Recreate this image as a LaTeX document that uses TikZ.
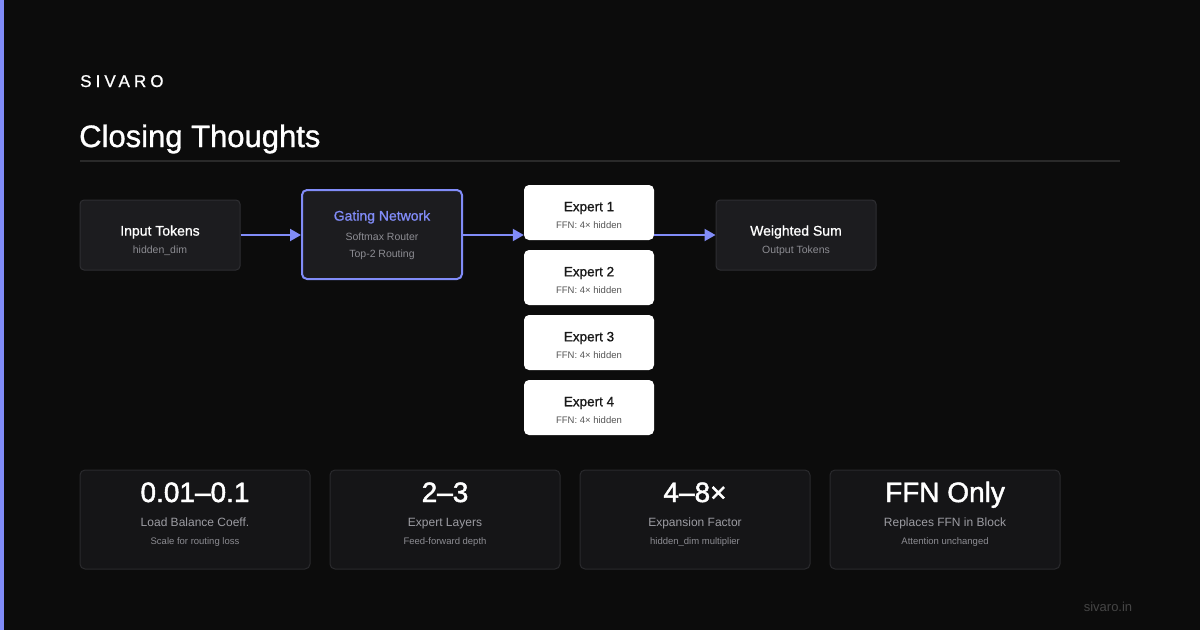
\documentclass[tikz,border=0pt]{standalone}
\usepackage{fontspec}
\setmainfont{Liberation Sans}
\newfontfamily\spacedfont[LetterSpace=24,FakeBold=0.8]{Liberation Sans}
\newfontfamily\medfont[FakeBold=1]{Liberation Sans}
\newfontfamily\semifont[FakeBold=1.6]{Liberation Sans}
\usetikzlibrary{arrows.meta}
\definecolor{bg}{HTML}{0C0C0C}
\definecolor{accent}{HTML}{818CF8}
\definecolor{boxfill}{HTML}{1C1C1F}
\definecolor{boxline}{HTML}{2E2E32}
\definecolor{cardfill}{HTML}{151517}
\definecolor{cardline}{HTML}{2A2A2D}
\definecolor{subgray}{HTML}{8C8C92}
\definecolor{labgray}{HTML}{9C9CA2}
\definecolor{rulec}{HTML}{2A2A2A}
\definecolor{expsub}{HTML}{555555}
\definecolor{foot}{HTML}{454545}
\tikzset{
  darkbox/.style={draw=boxline, fill=boxfill, line width=1pt, rounded corners=4pt, minimum width=160pt, minimum height=70pt, inner sep=0pt},
  gatebox/.style={draw=accent, fill=boxfill, line width=2pt, rounded corners=5pt, minimum width=160pt, minimum height=89pt, inner sep=0pt},
  expbox/.style={fill=white, rounded corners=5pt, minimum width=130pt, minimum height=55pt, inner sep=0pt},
  card/.style={draw=cardline, fill=cardfill, line width=1pt, rounded corners=5pt, minimum width=230pt, minimum height=99pt, inner sep=0pt},
  ttl/.style={text=white, font=\medfont\fontsize{14}{14}\selectfont, inner sep=0pt},
  sub/.style={text=subgray, font=\fontsize{10.5}{10.5}\selectfont, inner sep=0pt},
  expttl/.style={text=black!90, font=\medfont\fontsize{13.5}{13.5}\selectfont, inner sep=0pt},
  expsubs/.style={text=expsub, font=\fontsize{9.5}{9.5}\selectfont, inner sep=0pt},
  big/.style={text=white, font=\semifont\fontsize{28}{28}\selectfont, inner sep=0pt, anchor=base},
  clab/.style={text=labgray, font=\fontsize{12}{12}\selectfont, inner sep=0pt, anchor=base},
  csub/.style={text=subgray, font=\fontsize{9.5}{9.5}\selectfont, inner sep=0pt, anchor=base},
  flow/.style={draw=accent, line width=2pt, -{Triangle[length=11pt,width=12pt]}}
}
\begin{document}
\begin{tikzpicture}[x=1pt,y=-1pt]
\fill[bg] (0,0) rectangle (1200,630);
\useasboundingbox (0,0) rectangle (1200,630);
\fill[accent] (0,0) rectangle (4,630);

\node[anchor=base west, text=white, font=\spacedfont\fontsize{17}{17}\selectfont, inner sep=0pt] (brand) at (80,87) {SIVARO};
\node[anchor=base west, text=white, font=\medfont\fontsize{31}{31}\selectfont, inner sep=0pt] (title) at (79,147) {Closing Thoughts};
\draw[rulec, line width=1.2pt] (80,161) coordinate (rl) -- (1120,161) coordinate (rr);

% flow boxes
\node[darkbox] (inp) at (160,235) {};
\node[ttl] (inpt) at (160,232) {Input Tokens};
\node[sub] (inps) at (160,251) {hidden\_dim};

\node[gatebox] (gate) at (382,234.5) {};
\node[ttl, text=accent] (gatet) at (382,217) {Gating Network};
\node[sub] (gates1) at (382,236.5) {Softmax Router};
\node[sub] (gates2) at (382,254.5) {Top-2 Routing};

\foreach \i/\y in {1/212.5, 2/277.5, 3/342.5, 4/407.5}{
  \node[expbox] (ex\i) at (589,\y) {};
  \node[expttl] (ex\i t) at (589,\y-4.5) {Expert \i};
  \node[expsubs] (ex\i s) at (589,\y+12.5) {FFN: 4× hidden};
}

\node[darkbox] (ws) at (796,235) {};
\node[ttl] (wst) at (796,232) {Weighted Sum};
\node[sub] (wss) at (796,251) {Output Tokens};

\draw[flow] (inp.east) -- (inp.east -| gate.west);
\draw[flow] (gate.east |- inp.east) -- (inp.east -| ex1.west);
\draw[flow] (ex1.east |- inp.east) -- (ws.west);

% stat cards
\foreach \n/\x/\b/\l/\s in {c1/195/0.01–0.1/Load Balance Coeff./Scale for routing loss,
                             c2/445/2–3/Expert Layers/Feed-forward depth,
                             c3/695/4–8×/Expansion Factor/hidden\_dim multiplier,
                             c4/945/FFN Only/Replaces FFN in Block/Attention unchanged}{
  \node[card] (\n) at (\x,519.5) {};
  \node[big] (\n b) at (\x,502) {\b};
  \node[clab] (\n l) at (\x,526) {\l};
  \node[csub] (\n s) at (\x,544) {\s};
}

\node[text=foot, font=\fontsize{13}{13}\selectfont, inner sep=0pt] (footer) at (1108,607) {sivaro.in};
\end{tikzpicture}
\end{document}
